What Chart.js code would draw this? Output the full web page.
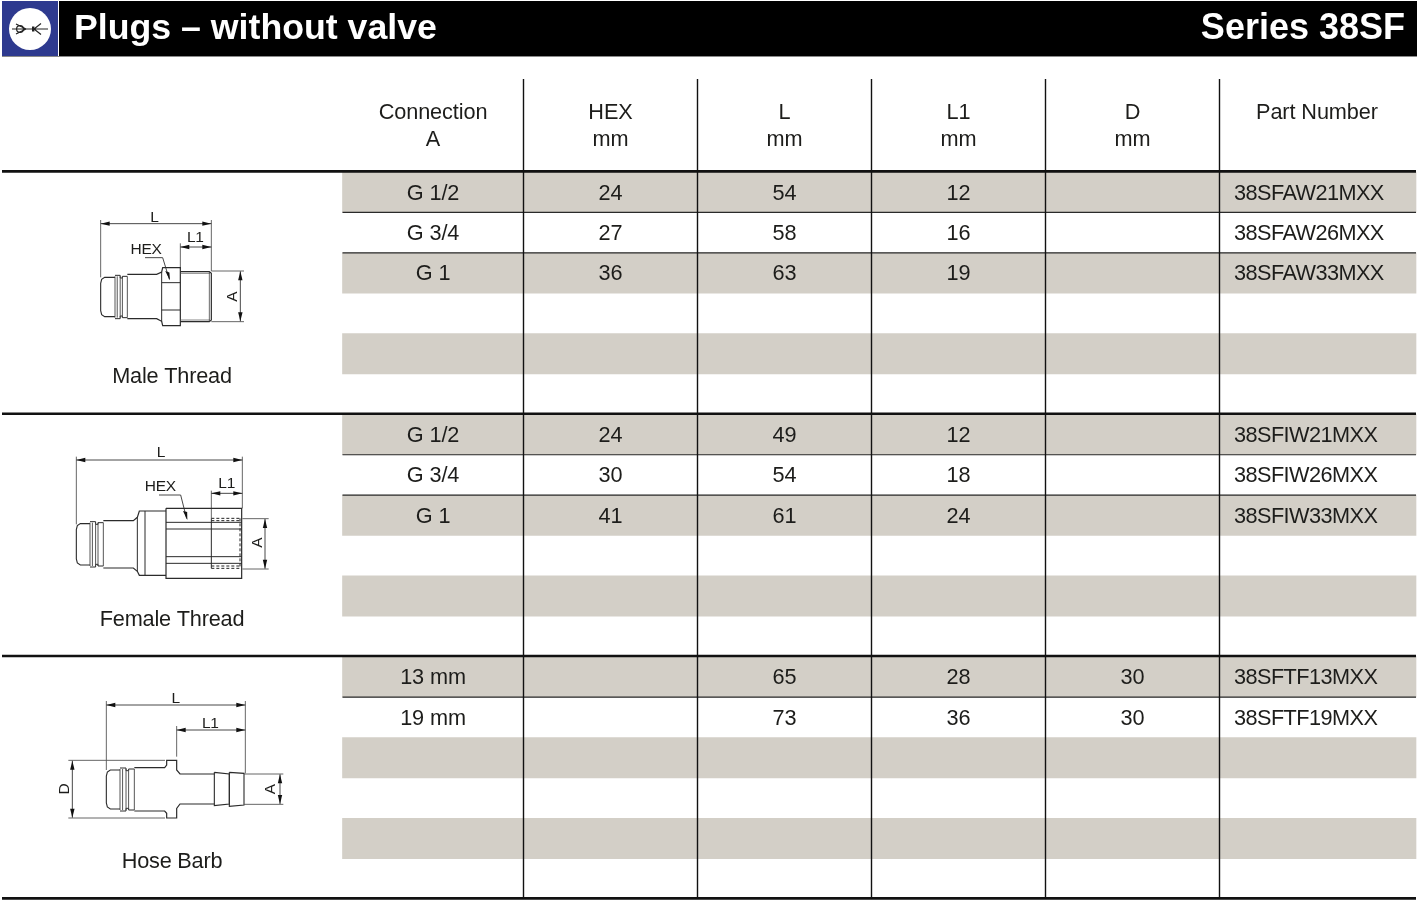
<!DOCTYPE html>
<html><head><meta charset="utf-8"><title>Plugs – without valve, Series 38SF</title>
<style>html,body{margin:0;padding:0;background:#fff}canvas{display:block}</style>
<script src="https://cdn.jsdelivr.net/npm/chart.js@4"></script></head>
<body><canvas id="c" width="1421" height="921"></canvas>
<script>
const titleText = "Plugs – without valve";
const seriesText = "Series 38SF";
const headerLine1 = ["Connection","HEX","L","L1","D","Part Number"];
const headerLine2 = ["A","mm","mm","mm","mm",""];
const sections = ["Male Thread","Female Thread","Hose Barb"];
const connection = ["G 1/2","G 3/4","G 1",null,null,null,"G 1/2","G 3/4","G 1",null,null,null,"13 mm","19 mm",null,null,null,null];
const hexMm = [24,27,36,null,null,null,24,30,41,null,null,null,null,null,null,null,null,null];
const lengthMm = [54,58,63,null,null,null,49,54,61,null,null,null,65,73,null,null,null,null];
const l1Mm = [12,16,19,null,null,null,12,18,24,null,null,null,28,36,null,null,null,null];
const dMm = [null,null,null,null,null,null,null,null,null,null,null,null,30,30,null,null,null,null];
const partNumber = ["38SFAW21MXX","38SFAW26MXX","38SFAW33MXX",null,null,null,"38SFIW21MXX","38SFIW26MXX","38SFIW33MXX",null,null,null,"38SFTF13MXX","38SFTF19MXX",null,null,null,null];
const shadedRows = [0,2,4,6,8,10,12,14,16];
const thinRuleRows = [1,2,7,8,13];
const groupRuleRows = [0,6,12,18];
const columnRules = [1,2,3,4,5];

const ROW_PX = 40.39, COL_PX = 174;
const yMin = -172/ROW_PX, yMax = (921-172)/ROW_PX;
const xMin = -349.5/COL_PX, xMax = (1421-349.5)/COL_PX;
const bandL = -7/COL_PX, bandR = (1416-349.5)/COL_PX, ruleL = -347.5/COL_PX;
const headTop = -93/ROW_PX;
const INK = "#1d1d1b", SHADE = "#d3cfc7";
const FONT = '"Liberation Sans", Arial, sans-serif';
const BODY = 21.7;

function txt(ctx, s, x, y, size, opt={}) {
  ctx.save();
  ctx.font = (opt.bold?'bold ':'') + size + 'px ' + FONT;
  ctx.fillStyle = opt.color || INK;
  ctx.textAlign = opt.align || 'center';
  ctx.textBaseline = 'alphabetic';
  if (opt.ls) ctx.letterSpacing = opt.ls + 'px';
  if (opt.rot) { ctx.translate(x,y); ctx.rotate(opt.rot); ctx.fillText(s,0,0); }
  else ctx.fillText(s,x,y);
  ctx.restore();
}

/* Technical sketches: paths given in a local 1/3-pixel grid */
function sketch(ctx, ox, oy, fn) {
  const P = (x,y)=>[ox+x/3, oy+y/3];
  const line = (pts, w=1, col="#2b2b2b", dash=null) => {
    ctx.beginPath(); ctx.lineWidth=w; ctx.strokeStyle=col; ctx.setLineDash(dash||[]);
    pts.forEach((p,i)=>{const q=P(p[0],p[1]); i?ctx.lineTo(q[0],q[1]):ctx.moveTo(q[0],q[1]);});
    ctx.stroke(); ctx.setLineDash([]);
  };
  const arrow = (x,y,dx,dy) => {
    const a=P(x,y); const L=9, W=2.2;
    ctx.beginPath(); ctx.fillStyle="#111"; ctx.moveTo(a[0],a[1]);
    ctx.lineTo(a[0]+dx*L-dy*W, a[1]+dy*L-dx*W); ctx.lineTo(a[0]+dx*L+dy*W, a[1]+dy*L+dx*W);
    ctx.closePath(); ctx.fill();
  };
  const dimH = (x1,x2,y) => { line([[x1,y],[x2,y]],0.9,"#333"); arrow(x1,y,1,0); arrow(x2,y,-1,0); };
  const dimV = (x,y1,y2) => { line([[x,y1],[x,y2]],0.9,"#333"); arrow(x,y1,0,1); arrow(x,y2,0,-1); };
  const ext = (pts) => line(pts,0.9,"#555");
  const label = (s,x,y,rot) => { const q=P(x,y); txt(ctx,s,q[0],q[1],15.5,{rot:rot?-Math.PI/2:0,ls:-0.3}); };
  fn({line,arrow,dimH,dimV,ext,label});
}
function nose(d, x0, x1, x2, top, bot) {
  d.line([[x1,top],[x0+12,top],[x0+3,top+6],[x0,top+18],[x0,bot-18],[x0+3,bot-6],[x0+12,bot],[x1,bot]],1.1);
  const r = x1, w = x2-x1;
  d.line([[r,top-6],[r+w*0.42,top-6],[r+w*0.42,top+2],[r+w*0.6,top+2],[r+w*0.6,top-3],[r+w,top-3]],1);
  d.line([[r,bot+6],[r+w*0.42,bot+6],[r+w*0.42,bot-2],[r+w*0.6,bot-2],[r+w*0.6,bot+3],[r+w,bot+3]],1);
  [r,r+w*0.18,r+w*0.42,r+w*0.6,r+w].forEach(x=>d.line([[x,top-3],[x,bot+3]],0.9,"#444"));
}
function drawMale(ctx){ sketch(ctx,40,190,d=>{
  d.ext([[182,90],[182,262]]); d.ext([[514,90],[514,243]]); d.ext([[421,160],[421,236]]);
  d.dimH(182,514,101); d.dimH(421,514,171);
  d.label("L",343,97); d.label("L1",466,157); d.label("HEX",318,193);
  d.line([[315,203],[368,203],[388,268]],0.9,"#333"); d.arrow(390,271,-0.3,-0.95);
  nose(d,182,225,262,262,380);
  d.line([[262,253],[350,253],[365,246],[368,233],[421,233],[421,407],[368,407],[365,394],[350,386],[262,386]],1.2);
  d.line([[365,246],[365,394]],1); d.line([[365,278],[421,278]],1); d.line([[365,360],[421,360]],1);
  d.line([[421,245],[508,245],[514,250],[514,390],[508,395],[421,395]],1.2);
  d.line([[421,250],[510,250]],0.7,"#555"); d.line([[421,390],[510,390]],0.7,"#555"); d.line([[508,245],[508,395]],0.8,"#444");
  d.ext([[514,243],[612,243]]); d.ext([[514,395],[612,395]]);
  d.dimV(601,244,394); d.label("A",592,320,true);
});}
function drawFemale(ctx){ sketch(ctx,50,430,d=>{
  d.ext([[79,80],[79,283]]); d.ext([[577,80],[577,235]]); d.ext([[484,182],[484,265]]);
  d.dimH(79,577,90); d.dimH(484,577,190);
  d.label("L",333,80); d.label("L1",530,175); d.label("HEX",331,183);
  d.line([[327,195],[392,195],[410,266]],0.9,"#333"); d.arrow(412,270,-0.25,-0.95);
  nose(d,79,120,160,281,405);
  d.line([[160,272],[250,272],[262,262],[268,243],[348,243]],1.2);
  d.line([[160,414],[250,414],[262,424],[268,436],[348,436]],1.2);
  d.line([[262,262],[262,424]],1); d.line([[285,243],[285,436]],1);
  d.line([[348,235],[575,235],[575,445],[348,445],[348,235]],1.2);
  d.line([[348,277],[575,277]],1); d.line([[348,297],[575,297]],1); d.line([[348,380],[575,380]],1); d.line([[348,400],[575,400]],1);
  d.line([[484,265],[570,265]],1,"#222",[3,2]); d.line([[484,272],[570,272]],1,"#222",[3,2]);
  d.line([[484,415],[570,415]],1,"#222",[3,2]); d.line([[484,408],[570,408]],1,"#222",[3,2]);
  d.line([[484,265],[484,415]],1); d.line([[570,265],[570,415]],1,"#222",[3,2]);
  d.ext([[577,266],[656,266]]); d.ext([[577,417],[656,417]]);
  d.dimV(645,267,416); d.label("A",637,338,true);
});}
function drawHose(ctx){ sketch(ctx,40,680,d=>{
  d.ext([[199,63],[199,270]]); d.ext([[616,63],[616,280]]); d.ext([[410,138],[410,230]]);
  d.dimH(199,616,75); d.dimH(410,616,150);
  d.label("L",407,70); d.label("L1",511,145);
  d.ext([[85,241],[375,241]]); d.ext([[85,414],[375,414]]);
  d.dimV(97,242,413); d.label("D",87,327,true);
  nose(d,199,240,283,270,387);
  d.line([[283,263],[374,263],[380,255],[380,241],[410,241],[410,270],[420,282],[523,282]],1.2);
  d.line([[283,393],[374,393],[380,400],[380,414],[410,414],[410,385],[420,372],[523,372]],1.2);
  d.line([[523,277],[568,282],[568,372],[523,377],[523,277]],1.1);
  d.line([[568,277],[612,280],[612,375],[568,379],[568,277]],1.1);
  d.ext([[612,282],[730,282]]); d.ext([[612,373],[730,373]]);
  d.dimV(720,283,372); d.label("A",706,328,true);
});}
function drawBadge(ctx){
  ctx.save();
  ctx.fillStyle="#2e3a8f"; ctx.fillRect(2,1,56,55);
  ctx.fillStyle="#fff"; ctx.beginPath(); ctx.arc(30,29,21,0,Math.PI*2); ctx.fill();
  ctx.strokeStyle="#222"; ctx.lineWidth=1.2; ctx.beginPath();
  ctx.moveTo(12,29); ctx.lineTo(48,29);
  ctx.moveTo(16,24); ctx.lineTo(26,29); ctx.lineTo(16,34);
  ctx.moveTo(41,23.5); ctx.lineTo(34,29); ctx.lineTo(41,34.5);
  ctx.stroke();
  ctx.beginPath(); ctx.arc(20,29,3.4,0,Math.PI*2); ctx.stroke();
  ctx.fillStyle="#222"; ctx.fillRect(32,26.5,2.4,5);
  ctx.restore();
}

const tablePlugin = {
  id:'tablePlugin',
  beforeDatasetsDraw(chart){
    const ctx = chart.ctx;
    ctx.save();
    ctx.fillStyle = "#000"; ctx.fillRect(59,1,1358,55);
    ctx.fillStyle = "#8a8a8a"; ctx.fillRect(2,56,1415,1);
    ctx.restore();
    drawBadge(ctx);
    txt(ctx,titleText,74,39,35.7,{bold:true,color:"#fff",align:'left'});
    txt(ctx,seriesText,1405,39,36,{bold:true,color:"#fff",align:'right'});
  },
  afterDatasetsDraw(chart){
    const ctx = chart.ctx, X = chart.scales.x, Y = chart.scales.y;
    const colCentre = [0.48,1.5,2.5,3.5,4.5,5.56];
    const y1 = Y.getPixelForValue(-1.5)+7.5, y2 = Y.getPixelForValue(-0.82)+7.5;
    headerLine1.forEach((s,i)=>txt(ctx,s,X.getPixelForValue(colCentre[i]),y1,BODY,{ls:-0.1}));
    headerLine2.forEach((s,i)=>{ if(s) txt(ctx,s,X.getPixelForValue(colCentre[i]),y2,BODY,{ls:-0.1}); });
    const base = r => Y.getPixelForValue(r+0.5)+7.5;
    const cols = [connection,hexMm,lengthMm,l1Mm,dMm];
    cols.forEach((col,c)=>col.forEach((v,r)=>{
      if(v!==null) txt(ctx,String(v),X.getPixelForValue(colCentre[c]),base(r),BODY,{ls:-0.1});
    }));
    partNumber.forEach((v,r)=>{ if(v) txt(ctx,v,X.getPixelForValue(5.083),base(r),BODY,{align:'left',ls:-0.55}); });
    sections.forEach((s,i)=>txt(ctx,s,X.getPixelForValue(-1.02),Y.getPixelForValue(5.05+6*i)+7.5,BODY,{ls:-0.2}));
    drawMale(ctx); drawFemale(ctx); drawHose(ctx);
  }
};

const datasets = [];
columnRules.forEach(c=>datasets.push({type:'scatter',showLine:true,pointRadius:0,borderColor:"#111",borderWidth:1.4,
  data:[{x:c,y:headTop},{x:c,y:18}],order:1}));
groupRuleRows.forEach(r=>datasets.push({type:'scatter',showLine:true,pointRadius:0,borderColor:"#111",borderWidth:2.6,
  data:[{x:ruleL,y:r-0.015},{x:bandR,y:r-0.015}],order:2}));
thinRuleRows.forEach(r=>datasets.push({type:'scatter',showLine:true,pointRadius:0,borderColor:"#2a2a2a",borderWidth:1.2,
  data:[{x:bandL,y:r},{x:bandR,y:r}],order:3}));
datasets.push({type:'bar',indexAxis:'y',grouped:false,barThickness:ROW_PX,backgroundColor:SHADE,borderWidth:0,order:4,
  data:shadedRows.map(r=>({x:[bandL,bandR],y:r+0.5}))});

new Chart(document.getElementById('c').getContext('2d'),{
  data:{datasets},
  options:{
    responsive:false,animation:false,devicePixelRatio:1,
    layout:{padding:0},
    events:[],
    plugins:{legend:{display:false},tooltip:{enabled:false},title:{display:false}},
    scales:{
      x:{type:'linear',min:xMin,max:xMax,display:false,offset:false},
      y:{type:'linear',min:yMin,max:yMax,reverse:true,display:false,offset:false}
    }
  },
  plugins:[tablePlugin]
});
</script></body></html>
